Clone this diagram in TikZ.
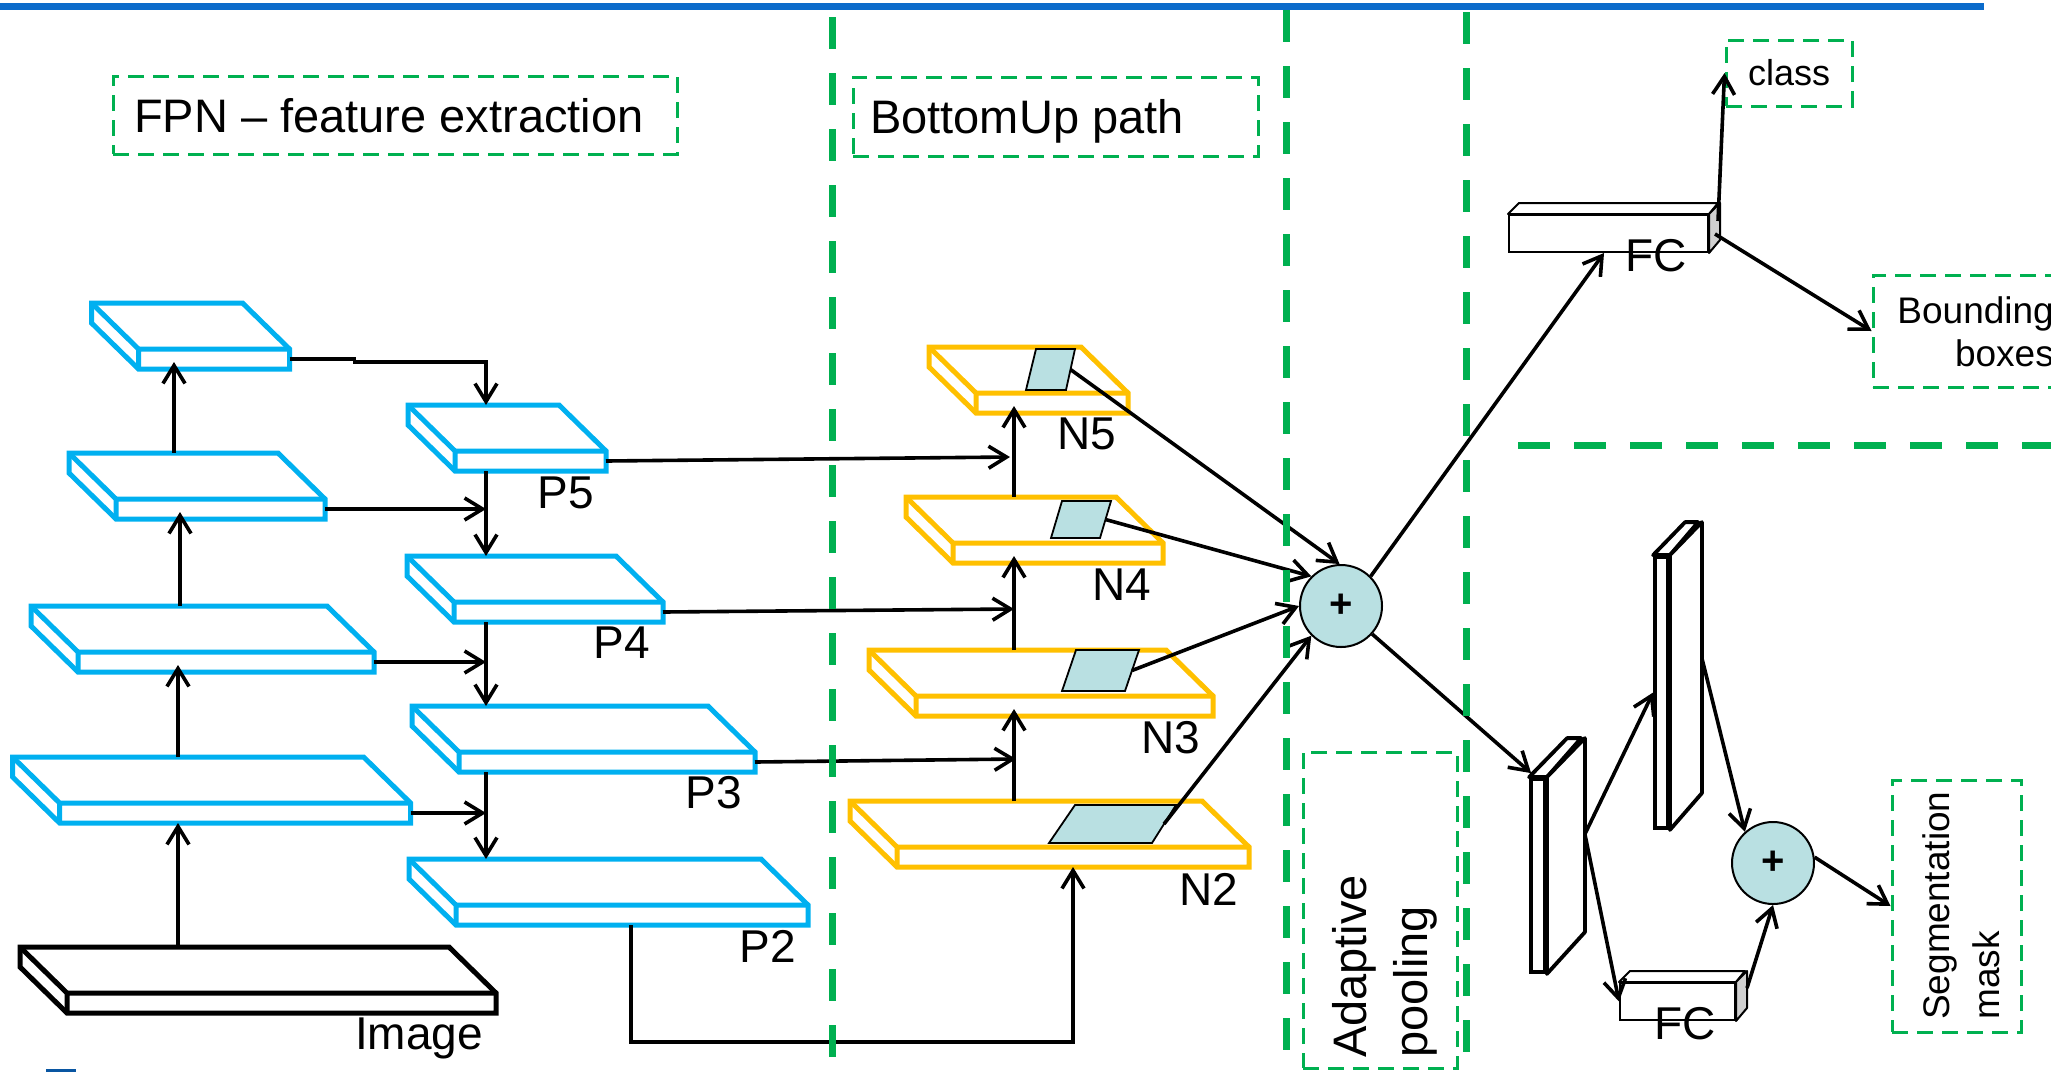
\documentclass[tikz,border=0pt]{standalone}
\usepackage{fontspec}
\setmainfont{Liberation Sans}
\usetikzlibrary{arrows.meta,calc}

\definecolor{fpnblue}{HTML}{00B0F0}
\definecolor{panorange}{HTML}{FFC000}
\definecolor{grn}{HTML}{00B050}
\definecolor{roifill}{HTML}{B9E0E2}
\definecolor{topblue}{HTML}{0B6BCB}
\definecolor{sidegray}{HTML}{D0D0D0}

\tikzset{
  arr/.style={line width=3.6pt, -{Straight Barb[length=18pt,width=22pt]}},
  gsep/.style={draw=grn, line width=7pt, dash pattern=on 32pt off 24pt},
  gbox/.style={draw=grn, line width=3pt, dash pattern=on 16pt off 9pt, inner sep=0pt},
  lbl/.style={font=\fontsize{46}{54}\selectfont, inner sep=0pt, anchor=base},
  sumnode/.style={circle, draw, line width=2pt, fill=roifill, minimum size=82pt, inner sep=0pt,
    font=\fontsize{40}{40}\selectfont\bfseries},
  fcbox/.style={draw, line width=2pt, fill=white, inner sep=0pt},
  tallbox/.style={draw, line width=3.8pt, fill=white, inner sep=0pt},
}

% feature-map slab: name, x, y (back-left corner), width, colour, line width
\newcommand\featslab[6]{%
  \coordinate (#1-a) at (#2,#3);
  \coordinate (#1-b) at ({#2+#4},#3);
  \coordinate (#1-c) at ({#2+#4+47},{#3+46});
  \coordinate (#1-d) at ({#2+47},{#3+46});
  \coordinate (#1-e) at ({#2+47},{#3+66});
  \coordinate (#1-f) at ({#2+#4+47},{#3+66});
  \coordinate (#1-g) at (#2,{#3+20});
  \coordinate (#1-m) at ({#2+47},{#3+59});
  \coordinate (#1-r) at ({#2+#4+47},{#3+56});
  \draw[line width=#6, draw=#5, fill=white, line join=miter]
    (#1-a) -- (#1-b) -- (#1-c) -- (#1-f) -- (#1-e) -- (#1-g) -- cycle;
  \draw[line width=#6, draw=#5] (#1-a) -- (#1-d) -- (#1-c) (#1-d) -- (#1-e);
}

% pooled region on a slab: name, four corners
\newcommand\roipatch[5]{%
  \draw[fill=roifill, line width=1.8pt]
    (#2) coordinate (#1-tl) -- (#3) coordinate (#1-tr) --
    (#4) coordinate (#1-br) -- (#5) coordinate (#1-bl) -- cycle;
  \coordinate (#1-r) at ($(#1-tr)!.5!(#1-br)$);
}

\begin{document}
\begin{tikzpicture}[x=1pt, y=-1pt]
\useasboundingbox (0,0) rectangle (2051,1072);
\clip (0,0) rectangle (2051,1072);

% header rule
\draw[topblue, line width=7pt] (0,6.5) -- (1984,6.5);
\fill[topblue!80!black] (46,1069) rectangle (76,1072);

% section titles
\node[gbox, minimum width=564pt, minimum height=78pt] (fpnbox) at (395,115) {};
\node[font=\fontsize{47}{54}\selectfont, inner sep=0pt, anchor=base west] (fpntxt) at (134,132) {FPN – feature extraction};
\node[gbox, minimum width=405pt, minimum height=79pt] (bubox) at (1055.5,116.5) {};
\node[font=\fontsize{47}{54}\selectfont, inner sep=0pt, anchor=base west] (butxt) at (870,133) {BottomUp path};

% backbone feature maps
\featslab{c1}{91.5}{303}{151}{fpnblue}{5pt}
\featslab{c2}{69}{453}{209}{fpnblue}{5pt}
\featslab{c3}{31}{606}{296}{fpnblue}{5pt}
\featslab{c4}{12.6}{757}{351}{fpnblue}{5pt}
\featslab{img}{20}{947}{429}{black}{5pt}
\node[lbl] (imgtxt) at (419,1049) {Image};

% top-down pyramid P5..P2
\featslab{p5}{408}{405}{151}{fpnblue}{5pt}
\featslab{p4}{407}{556}{209}{fpnblue}{5pt}
\featslab{p3}{412}{706}{296}{fpnblue}{5pt}
\featslab{p2}{409}{859}{352}{fpnblue}{5pt}
\node[lbl] (p5txt) at (566,508) {P5};
\node[lbl] (p4txt) at (622,658) {P4};
\node[lbl] (p3txt) at (714,808) {P3};
\node[lbl] (p2txt) at (768,962) {P2};

% bottom-up pyramid N5..N2
\featslab{n5}{929}{347}{152}{panorange}{5pt}
\featslab{n4}{906}{497}{210}{panorange}{5pt}
\featslab{n3}{869}{650}{297}{panorange}{5pt}
\featslab{n2}{850}{801}{352}{panorange}{5pt}
\node[lbl] (n5txt) at (1087,449) {N5};
\node[lbl] (n4txt) at (1122,600) {N4};
\node[lbl] (n3txt) at (1171,753) {N3};
\node[lbl] (n2txt) at (1209,905) {N2};

\roipatch{r5}{1036,349}{1075,349}{1066,390}{1026,390}
\roipatch{r4}{1062,501}{1111,501}{1100,538}{1051,538}
\roipatch{r3}{1076,650}{1139,650}{1125,691}{1062,691}
\roipatch{r2}{1075,805}{1176,805}{1152,843}{1049,843}

% column guides for the vertical connectors
\coordinate (colA) at (178,0);
\coordinate (colB) at (180,0);
\coordinate (colC) at (174,0);
\coordinate (trunk) at (486,0);
\coordinate (ncol) at (1014,0);

% backbone: bottom-up
\draw[arr] (img-a -| colA) -- (c4-e -| colA);
\draw[arr] (c4-a -| colA) -- (c3-m -| colA);
\draw[arr] (c3-a -| colB) -- (c2-m -| colB);
\draw[arr] (c2-a -| colC) -- (c1-m -| colC);

% lateral connections into the top-down path
\draw[arr] (c1-r) -- ++(65,0) -- ++(0,3) -| (p5-a -| trunk);
\draw[arr] (c2-r) -- (c2-r -| trunk);
\draw[arr] (c3-r) -- (c3-r -| trunk);
\draw[arr] (c4-r) -- (c4-r -| trunk);
\draw[arr] (p5-e -| trunk) -- (p4-a -| trunk);
\draw[arr] (p4-e -| trunk) -- (p3-a -| trunk);
\draw[arr] (p3-e -| trunk) -- (p2-a -| trunk);

% P levels into the bottom-up path
\draw[arr] (p5-r) -- ($(p5-r -| ncol)+(-4,-4)$);
\draw[arr] (p4-r) -- ($(p4-r -| ncol)+(0,-3)$);
\draw[arr] (p3-r) -- ($(p3-r -| ncol)+(2,-3)$);
\draw[arr] (n2-a -| ncol) -- (n3-m -| ncol);
\draw[arr] (n3-a -| ncol) -- (n4-m -| ncol);
\draw[arr] (n4-a -| ncol) -- (n5-m -| ncol);
\coordinate (p2out) at ($(p2-a)+(222,66)$);
\coordinate (route) at (1073,1042);
\coordinate (n2in) at ($(n2-e)+(176,0)$);
\draw[arr] (p2out) |- (route) -- (n2in);

% adaptive feature pooling
\node[sumnode] (sum) at (1341,606) {+};
\draw[arr] (r5-r) -- (sum.92);
\draw[arr] (r4-r) -- (sum.135);
\draw[arr] (r3-r) -- (sum.180);
\draw[arr] (r2-r) -- (sum.225);

\node[gbox, minimum width=154pt, minimum height=316pt] (apbox) at (1380,910) {};
\node[rotate=90, align=left, anchor=west, inner sep=0pt,
      font=\fontsize{47}{61}\selectfont] (aptxt) at (1385,1058) {Adaptive\\pooling};

% box branch
\node[fcbox, minimum width=199pt, minimum height=37pt] (fc1) at (1608.5,233.5) {};
\draw[line width=2pt, fill=white, line join=round] (fc1.north west) -- ++(11,-11) -- ++(199,0) -- (fc1.north east) -- cycle;
\draw[line width=2pt, fill=sidegray, line join=round] (fc1.north east) -- ++(11,-11) -- ++(0,37) -- (fc1.south east) -- cycle;
\node[lbl] (fc1txt) at (1656,271) {FC};

\node[gbox, minimum width=126pt, minimum height=66pt, font=\fontsize{36}{36}\selectfont] (cls) at (1789,73) {class};
\node[gbox, minimum width=188pt, minimum height=112pt] (bbox) at (1967,331) {};
\node[align=right, anchor=east, inner sep=0pt, font=\fontsize{37}{43}\selectfont] (bbtxt) at (2054,332) {Bounding\\boxes};

\draw[arr] (sum.45) -- ($(fc1.south west)+(96,0)$);
\draw[arr] ($(fc1.north east)+(9,7)$) -- (cls.west);
\draw[arr] ($(fc1.north east)+(6,20)$) -- (bbox.west);

% mask branch
\node[tallbox, minimum width=14pt, minimum height=193pt] (ts1) at (1538,875.5) {};
\draw[line width=3.8pt, fill=white, line join=round] (ts1.north west) -- ++(38,-39) -- ++(14,0) -- (ts1.north east) -- cycle;
\draw[line width=3.8pt, fill=white, line join=round] (ts1.north east) -- ++(38,-39) -- ++(0,194) -- (ts1.south east) -- cycle;

\node[tallbox, minimum width=13pt, minimum height=271pt] (ts2) at (1661.5,692.5) {};
\draw[line width=3.8pt, fill=white, line join=round] (ts2.north west) -- ++(32,-33) -- ++(13,0) -- (ts2.north east) -- cycle;
\draw[line width=3.8pt, fill=white, line join=round] (ts2.north east) -- ++(32,-33) -- ++(0,271) -- (ts2.south east) -- cycle;

\node[fcbox, minimum width=115pt, minimum height=37pt] (fc2) at (1677.5,1001.5) {};
\draw[line width=2pt, fill=white, line join=round] (fc2.north west) -- ++(11,-11) -- ++(115,0) -- (fc2.north east) -- cycle;
\draw[line width=2pt, fill=sidegray, line join=round] (fc2.north east) -- ++(11,-11) -- ++(0,37) -- (fc2.south east) -- cycle;
\node[lbl] (fc2txt) at (1685,1039) {FC};

\node[sumnode] (sum2) at (1773,863) {+};
\node[gbox, minimum width=129pt, minimum height=252pt] (seg) at (1956.5,906) {};
\node[rotate=90, align=left, anchor=west, inner sep=0pt,
      font=\fontsize{37}{50}\selectfont] (segtxt) at (1961,1020) {Segmentation\\mask};

\coordinate (ts1out) at ($(ts1.north east)+(38,57)$);
\draw[arr] (sum.-42) -- ($(ts1.north west)+(2,-4)$);
\draw[arr] (ts1out) -- (ts2.west);
\draw[arr] (ts1out) -- (fc2.west);
\draw[arr] ($(ts2.north east)+(32,103)$) -- (sum2.132);
\draw[arr] ($(fc2.north east)+(11,6)$) -- (sum2.270);
\draw[arr] (sum2.8) -- (seg.west);

% stage separators
\draw[gsep] (832,17) -- (832,1072);
\draw[gsep] (1286,10) -- (1286,1072);
\draw[gsep] (1466,12) -- (1466,1072);
\draw[gsep] (1518,445) -- (2051,445);
\end{tikzpicture}
\end{document}
